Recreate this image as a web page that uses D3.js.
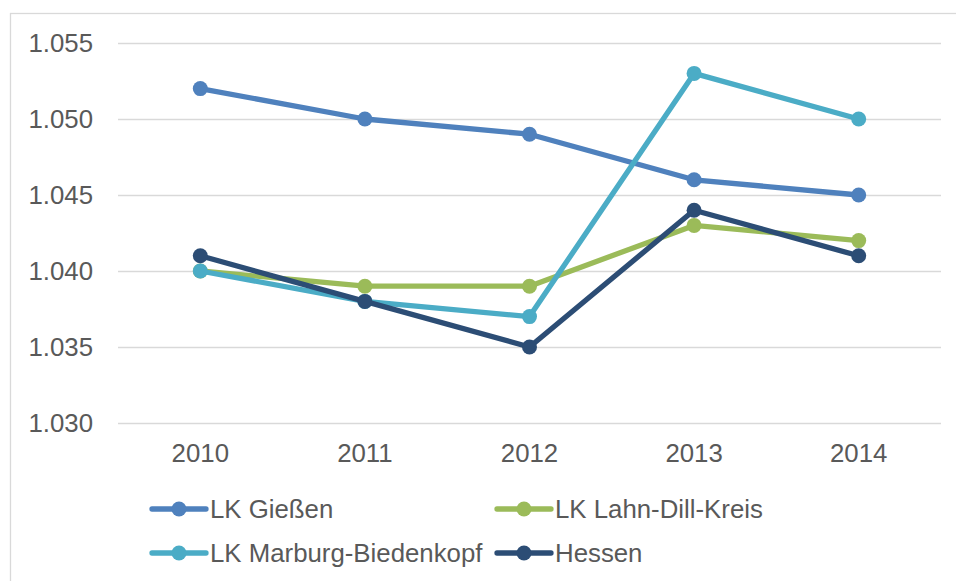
<!DOCTYPE html>
<html>
<head>
<meta charset="utf-8">
<script src="https://cdn.jsdelivr.net/npm/d3@7"></script>
<style>
  body { margin: 0; background: #fff; }
  svg { display: block; }
</style>
</head>
<body>
<div id="chart"></div>
<script>
const years = ['2010', '2011', '2012', '2013', '2014']
const seriesNames = ['LK Gießen', 'LK Lahn-Dill-Kreis', 'LK Marburg-Biedenkopf', 'Hessen']
const giessen = [1052, 1050, 1049, 1046, 1045]
const lahnDill = [1040, 1039, 1039, 1043, 1042]
const marburg = [1040, 1038, 1037, 1053, 1050]
const hessen = [1041, 1038, 1035, 1044, 1041]
const yTicks = [1030, 1035, 1040, 1045, 1050, 1055]

const colors = ['#4f81bd', '#9bbb59', '#4bacc6', '#2c4d75']
const series = [giessen, lahnDill, marburg, hessen]

const W = 956
const H = 581
const FONT = 'Liberation Sans, Arial, sans-serif'
const FONT_SIZE = 25.8
const TEXT = '#595959'
const GRID = '#d9d9d9'

const de = d3.formatLocale({ decimal: ',', thousands: '.', grouping: [3], currency: ['', '€'] })
const fmt = de.format(',d')

const x = d3.scaleBand().domain(years).range([118, 941])
const y = d3.scaleLinear().domain([1030, 1055]).range([423, 43])

const svg = d3.select('#chart').append('svg').attr('width', W).attr('height', H)

// chart frame
svg
  .append('rect')
  .attr('x', 10.5)
  .attr('y', 13.5)
  .attr('width', W)
  .attr('height', H)
  .attr('fill', '#fff')
  .attr('stroke', GRID)
  .attr('stroke-width', 1.3)

// gridlines + y labels
const yAxis = svg
  .append('g')
  .attr('transform', `translate(118,0)`)
  .call(
    d3
      .axisLeft(y)
      .tickValues(yTicks)
      .tickSize(-(941 - 118))
      .tickPadding(25)
      .tickFormat(fmt)
  )
yAxis.select('.domain').remove()
yAxis.selectAll('.tick line').attr('stroke', GRID).attr('stroke-width', 1.4)
yAxis
  .selectAll('.tick text')
  .attr('fill', TEXT)
  .attr('font-family', FONT)
  .attr('font-size', FONT_SIZE)

// x labels
const xAxis = svg
  .append('g')
  .attr('transform', `translate(0,423)`)
  .call(d3.axisBottom(x).tickSize(0).tickPadding(21))
xAxis.select('.domain').remove()
xAxis
  .selectAll('.tick text')
  .attr('fill', TEXT)
  .attr('font-family', FONT)
  .attr('font-size', FONT_SIZE)

const cx = (i) => x(years[i]) + x.bandwidth() / 2

const line = d3
  .line()
  .x((d, i) => cx(i))
  .y((d) => y(d))

series.forEach((vals, s) => {
  const g = svg.append('g')
  g.append('path')
    .attr('d', line(vals))
    .attr('fill', 'none')
    .attr('stroke', colors[s])
    .attr('stroke-width', 5.3)
    .attr('stroke-linejoin', 'round')
  g.selectAll('circle')
    .data(vals)
    .join('circle')
    .attr('cx', (d, i) => cx(i))
    .attr('cy', (d) => y(d))
    .attr('r', 7.5)
    .attr('fill', colors[s])
})

// legend
const legendPos = [
  [152, 509],
  [497, 509],
  [152, 553],
  [497, 553],
]

seriesNames.forEach((name, s) => {
  const [lx, ly] = legendPos[s]
  const g = svg.append('g').attr('transform', `translate(${lx},${ly})`)
  g.append('line')
    .attr('x1', 0)
    .attr('x2', 54)
    .attr('y1', 0)
    .attr('y2', 0)
    .attr('stroke', colors[s])
    .attr('stroke-width', 5.3)
    .attr('stroke-linecap', 'round')
  g.append('circle').attr('cx', 27).attr('cy', 0).attr('r', 7.5).attr('fill', colors[s])
  g.append('text')
    .attr('x', 58)
    .attr('y', 0)
    .attr('dy', '0.35em')
    .attr('fill', TEXT)
    .attr('font-family', FONT)
    .attr('font-size', FONT_SIZE)
    .text(name)
})
</script>
</body>
</html>
